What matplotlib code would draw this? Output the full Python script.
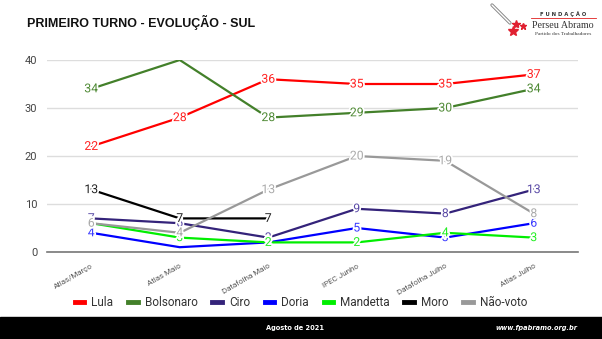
import matplotlib.pyplot as plt
import matplotlib.patheffects as pe
import numpy as np

pesquisas = ["Atlas/Março", "Atlas Maio", "Datafolha Maio",
             "IPEC Junho", "Datafolha Julho", "Atlas Julho"]

lula = [22, 28, 36, 35, 35, 37]
bolsonaro = [34, 40, 28, 29, 30, 34]
ciro = [7, 6, 3, 9, 8, 13]
doria = [4, 1, 2, 5, 3, 6]
mandetta = [6, 3, 2, 2, 4, 3]
moro = [13, 7, 7, None, None, None]
nao_voto = [6, 4, 13, 20, 19, 8]

# nome, valores, cor da linha, cor do rótulo, pontos sem rótulo
series = [
    ("Lula", lula, "#ff0000", "#ff2020", []),
    ("Bolsonaro", bolsonaro, "#43802a", "#4f8a35", [1]),
    ("Ciro", ciro, "#34237a", "#5a4aa6", []),
    ("Doria", doria, "#0000ff", "#3a3aff", [1]),
    ("Mandetta", mandetta, "#00ee00", "#22ee22", []),
    ("Moro", moro, "#000000", "#222222", []),
    ("Não-voto", nao_voto, "#999999", "#aaaaaa", []),
]

fig = plt.figure(figsize=(6.02, 3.39), dpi=100)
fig.patch.set_facecolor("white")
ax = fig.add_axes([47 / 602, 1 - 252 / 339, 531 / 602, 192 / 339])

x = np.arange(len(pesquisas))
halo = [pe.withStroke(linewidth=2.5, foreground="white")]

for nome, vals, cor, cor_txt, sem_rotulo in series:
    xs = [i for i, v in zip(x, vals) if v is not None]
    ys = [v for v in vals if v is not None]
    ax.plot(xs, ys, color=cor, lw=1.6, label=nome, solid_joinstyle="miter")
    for i, v in zip(xs, ys):
        if i in sem_rotulo:
            continue
        ax.text(i, v, str(v), color=cor_txt, fontsize=8.8, ha="center",
                va="center", family="Roboto", path_effects=halo, zorder=5)

ax.set_xlim(-0.5, 5.5)
ax.set_ylim(0, 40)
ax.set_yticks([0, 10, 20, 30, 40])
ax.set_xticks(x)
ax.set_xticklabels(pesquisas, rotation=30, ha="right", rotation_mode="anchor",
                   fontsize=5.8, color="#555555", family="Roboto")
ax.tick_params(axis="x", length=0, pad=8)
ax.tick_params(axis="y", length=0, labelsize=8, labelcolor="#444444", pad=7)
for lbl in ax.get_yticklabels():
    lbl.set_family("Roboto")
ax.grid(axis="y", color="#dddddd", lw=1)
ax.set_axisbelow(True)
for s in ["top", "right", "left"]:
    ax.spines[s].set_visible(False)
ax.spines["bottom"].set_color("#777777")
ax.spines["bottom"].set_linewidth(1.2)

leg = fig.legend(loc="center", bbox_to_anchor=(301 / 602, 1 - 303 / 339),
                 ncol=7, frameon=False, handlelength=0.8,
                 handletextpad=0.6, columnspacing=1.25,
                 prop={"family": "Roboto", "size": 8.5})
for h in leg.get_lines():
    h.set_linewidth(3.5)
for t in leg.get_texts():
    t.set_color("#333333")

fig.text(27 / 602, 1 - 22 / 339, "PRIMEIRO TURNO - EVOLUÇÃO - SUL",
         fontsize=9, fontweight="bold", family="Liberation Sans",
         va="center", color="#111111")

# logotipo da fundação
fig.text(563 / 602, 1 - 14 / 339, "F U N D A Ç Ã O", fontsize=3.8,
         fontweight="bold", color="#333333", ha="center", va="center")
fig.add_artist(plt.Line2D([531 / 602, 596 / 602], [1 - 18 / 339, 1 - 18 / 339],
                          color="#e02020", lw=0.6))
fig.text(563 / 602, 1 - 25 / 339, "Perseu Abramo", fontsize=7.2,
         family="Liberation Serif", color="#333333", ha="center", va="center")
fig.text(563 / 602, 1 - 34 / 339, "Partido dos Trabalhadores", fontsize=3.9,
         family="Liberation Serif", color="#333333", ha="center", va="center")
fig.add_artist(plt.Line2D([492 / 602, 510 / 602], [1 - 5 / 339, 1 - 23 / 339],
                          color="#888888", lw=2.4, solid_capstyle="round"))
fig.add_artist(plt.Line2D([492 / 602, 510 / 602], [1 - 5 / 339, 1 - 23 / 339],
                          color="white", lw=1.0, solid_capstyle="round"))
for sx, sy, ms in [(516, 24, 6), (523, 26, 5), (513, 31, 7.5)]:
    fig.add_artist(plt.Line2D([sx / 602], [1 - sy / 339], marker="*",
                              color="#e02030", ms=ms, mec="#e02030"))

# faixa do rodapé
fig.patches.append(plt.Rectangle((0, 0), 1, 22 / 339, transform=fig.transFigure,
                                 color="black", zorder=0))
fig.text(295 / 602, 1 - 328 / 339, "Agosto de 2021", fontsize=4.8,
         fontweight="bold", color="white", ha="center", va="center")
fig.text(536 / 602, 1 - 328 / 339, "www.fpabramo.org.br", fontsize=4.8,
         fontweight="bold", style="italic", color="white", ha="center", va="center")

fig.savefig("out.png", dpi=100, facecolor="white")
